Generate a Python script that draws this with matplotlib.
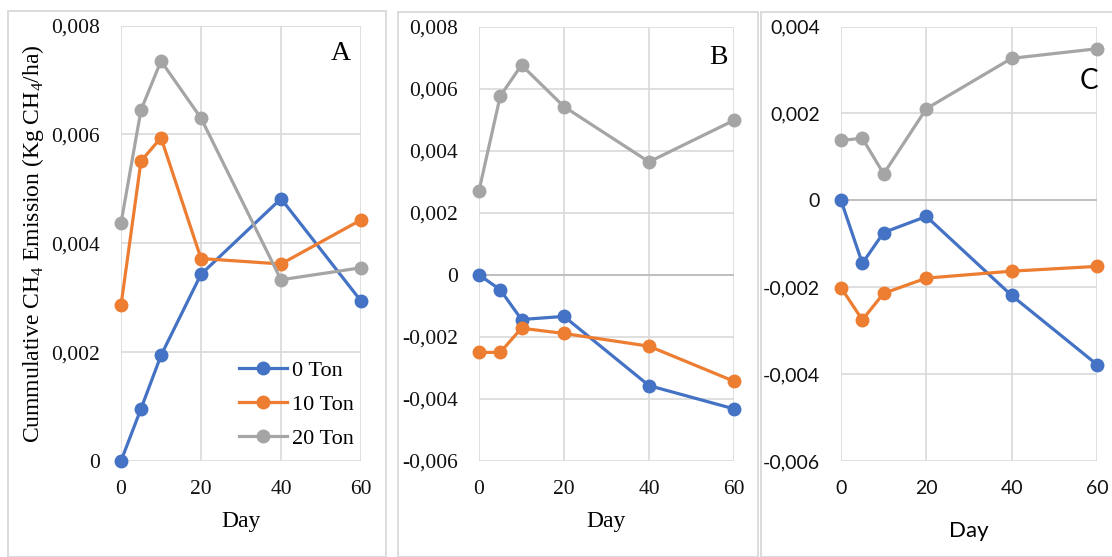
import matplotlib
matplotlib.use("Agg")
import matplotlib.pyplot as plt
from matplotlib.ticker import FuncFormatter, MultipleLocator
from matplotlib.patches import Rectangle

plt.rcParams['mathtext.fontset'] = 'custom'
plt.rcParams['mathtext.rm'] = 'Liberation Serif'

# Sampling days
days = [0, 5, 10, 20, 40, 60]
series_names = ["0 Ton", "10 Ton", "20 Ton"]
colors = ["#4472C4", "#ED7D31", "#A5A5A5"]

# Panel A
a_0 = [0.0, 0.00096, 0.00194, 0.00343, 0.00482, 0.00294]
a_10 = [0.00286, 0.00551, 0.00594, 0.00372, 0.00362, 0.00443]
a_20 = [0.00437, 0.00645, 0.00735, 0.00630, 0.00333, 0.00355]

# Panel B
b_0 = [0.0, -0.00048, -0.00144, -0.00134, -0.00357, -0.00432]
b_10 = [-0.00250, -0.00250, -0.00172, -0.00189, -0.00230, -0.00343]
b_20 = [0.00271, 0.00576, 0.00676, 0.00542, 0.00364, 0.00498]

# Panel C
c_0 = [0.0, -0.00145, -0.00074, -0.00037, -0.00219, -0.00378]
c_10 = [-0.00201, -0.00275, -0.00214, -0.00179, -0.00163, -0.00152]
c_20 = [0.00138, 0.00143, 0.00061, 0.00211, 0.00327, 0.00349]


def comma_fmt(v, pos):
    if abs(v) < 1e-12:
        return "0"
    return f"{v:.3f}".replace(".", ",")


W, H = 1112, 557
fig = plt.figure(figsize=(W / 100, H / 100), dpi=100)


def px_axes(left, top, right, bottom):
    return fig.add_axes([left / W, 1 - bottom / H, (right - left) / W, (bottom - top) / H])


def setup(ax, ylim, family, fsize, zero_line):
    ax.set_xlim(0, 60)
    ax.set_ylim(*ylim)
    ax.xaxis.set_major_locator(MultipleLocator(20))
    ax.yaxis.set_major_locator(MultipleLocator(0.002))
    ax.yaxis.set_major_formatter(FuncFormatter(comma_fmt))
    ax.grid(True, color="#d9d9d9", linewidth=1.2)
    ax.set_axisbelow(True)
    for s in ax.spines.values():
        s.set_visible(False)
    ax.tick_params(length=0, labelsize=fsize, labelcolor="#111111",
                   labelfontfamily=family)
    ax.tick_params(axis="x", pad=14)
    ax.tick_params(axis="y", pad=15)
    if zero_line:
        ax.axhline(0, color="#bfbfbf", linewidth=1.4, zorder=1)


def draw(ax, ys):
    for name, y, c in zip(series_names, ys, colors):
        ax.plot(days, y, color=c, linewidth=2.3, marker="o", markersize=9,
                label=name, clip_on=False, zorder=3)


# panel frames
fig.patches.append(Rectangle((8 / W, 0), 378 / W, 1 - 11 / H, transform=fig.transFigure,
                             fill=False, edgecolor="#d9d9d9", linewidth=1.3))
fig.patches.append(Rectangle((398 / W, 0), 360 / W, 1 - 12 / H, transform=fig.transFigure,
                             fill=False, edgecolor="#d9d9d9", linewidth=1.3))
fig.patches.append(Rectangle((761 / W, 0), 400 / W, 1 - 12 / H, transform=fig.transFigure,
                             fill=False, edgecolor="#d9d9d9", linewidth=1.3))

serif = "Liberation Serif"
sans = "Lato"

axA = px_axes(121, 25.6, 361, 461)
setup(axA, (0, 0.008), serif, 15.5, False)
draw(axA, [a_0, a_10, a_20])
axA.set_xlabel("Day", family=serif, fontsize=17, labelpad=8)
axA.set_ylabel("Cummulative CH$_\\mathregular{4}$ Emission (Kg CH$_\\mathregular{4}$/ha)",
               family=serif, fontsize=17, labelpad=4)
axA.text(0.915, 0.935, "A", transform=axA.transAxes, family=serif, fontsize=20,
         ha="center", va="center")
leg = axA.legend(loc="lower right", bbox_to_anchor=(1.03, -0.006), frameon=False,
                 prop={"family": serif, "size": 16}, handlelength=2.2,
                 handletextpad=0.2, labelspacing=0.62, borderaxespad=0.25)

axB = px_axes(479, 26.6, 734, 461)
setup(axB, (-0.006, 0.008), serif, 15.5, True)
draw(axB, [b_0, b_10, b_20])
axB.set_xlabel("Day", family=serif, fontsize=17, labelpad=8)
axB.text(0.94, 0.93, "B", transform=axB.transAxes, family=serif, fontsize=20,
         ha="center", va="center")

axC = px_axes(841, 26.6, 1097, 461)
setup(axC, (-0.006, 0.004), sans, 14, True)
draw(axC, [c_0, c_10, c_20])
axC.set_xlabel("Day", family=sans, fontsize=16, labelpad=17)
axC.text(0.97, 0.875, "C", transform=axC.transAxes, family=sans, fontsize=20,
         ha="center", va="center")

fig.savefig("out.png", dpi=100)
